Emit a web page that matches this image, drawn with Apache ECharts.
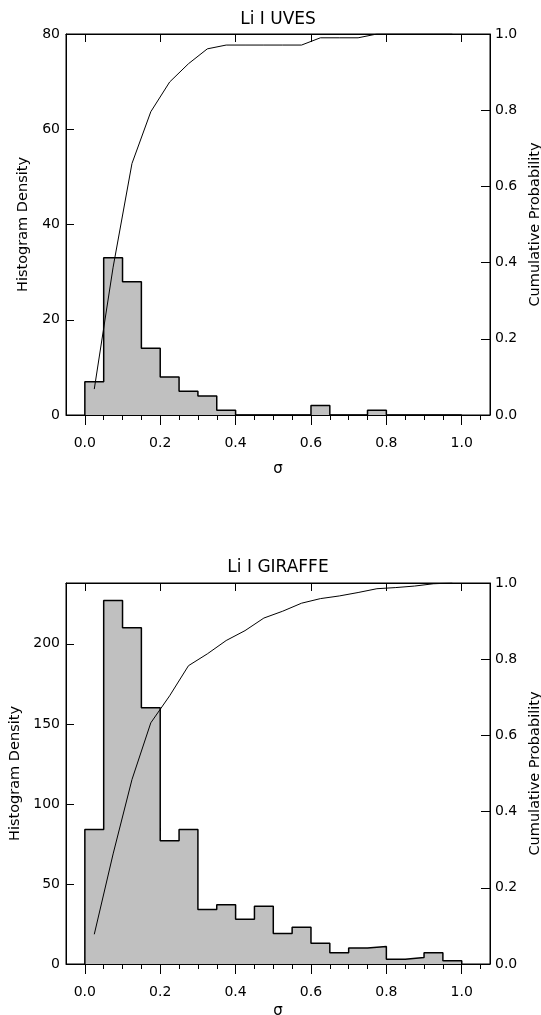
<!DOCTYPE html>
<html>
<head>
<meta charset="utf-8">
<script src="https://cdn.jsdelivr.net/npm/echarts@6/dist/echarts.min.js"></script>
<style>
html,body{margin:0;padding:0;background:#fff;}
#chart{width:541px;height:1015px;}
</style>
</head>
<body>
<div id="chart"></div>
<script>
// ---------- data ----------
const binStarts = [0.00,0.05,0.10,0.15,0.20,0.25,0.30,0.35,0.40,0.45,0.50,0.55,0.60,0.65,0.70,0.75,0.80,0.85,0.90,0.95];
const binWidth = 0.05;

const uvesDensity = [7,33,28,14,8,5,4,1,0,0,0,0,2,0,0,1,0,0,0,0];
const uvesCumulative = [0.068,0.388,0.660,0.796,0.874,0.922,0.961,0.971,0.971,0.971,0.971,0.971,0.990,0.990,0.990,1.0,1.0,1.0,1.0,1.0];

const giraffeDensity = [84,227,210,160,77,84,34,37,28,36,19,23,13,7,10,11,3,4,7,2];
const giraffeCumulative = [0.078,0.289,0.484,0.633,0.704,0.783,0.814,0.849,0.875,0.908,0.926,0.947,0.959,0.966,0.975,0.985,0.988,0.992,0.998,1.0];

const xTickValues = [0.0,0.2,0.4,0.6,0.8,1.0];
const xMinorTickValues = [0.00,0.05,0.10,0.15,0.20,0.25,0.30,0.35,0.40,0.45,0.50,0.55,0.60,0.65,0.70,0.75,0.80,0.85,0.90,0.95,1.00,1.05];
const uvesDensityTicks = [0,20,40,60,80];
const giraffeDensityTicks = [0,50,100,150,200];
const probTicks = [0.0,0.2,0.4,0.6,0.8,1.0];

const titles = ['Li I UVES','Li I GIRAFFE'];

// ---------- helpers ----------
const FONT = 'DejaVu Sans';
function stepData(vals){
  const d = [[binStarts[0], 0]];
  vals.forEach((v,i)=>d.push([binStarts[i], v]));
  d.push([binStarts[binStarts.length-1] + binWidth, 0]);
  return d;
}
function cumData(vals){
  return vals.map((v,i)=>[binStarts[i] + binWidth/2, v]);
}
const XMIN = -0.05, XMAX = 1.075;
const txt = {color:'#000', fontFamily:FONT, fontSize:14};

function xAxes(g, sigmaGap){
  return [
    {gridIndex:g, type:'value', position:'bottom', min:XMIN, max:XMAX,
     splitLine:{show:false},
     axisLine:{show:true, onZero:false, lineStyle:{color:'#000', width:1}},
     axisTick:{show:true, inside:false, length:10, customValues:xTickValues, lineStyle:{color:'#000', width:1}},
     axisLabel:Object.assign({show:true, customValues:xTickValues, margin:21, formatter:v=>v.toFixed(1)}, txt),
     name:'σ', nameLocation:'middle', nameGap:sigmaGap,
     nameTextStyle:{color:'#000', fontFamily:FONT, fontSize:15}},
    {gridIndex:g, type:'value', position:'bottom', min:XMIN, max:XMAX,
     splitLine:{show:false}, axisLine:{show:false, onZero:false},
     axisTick:{show:true, inside:false, length:5, customValues:xMinorTickValues, lineStyle:{color:'#000', width:1}},
     axisLabel:{show:false}},
    {gridIndex:g, type:'value', position:'top', min:XMIN, max:XMAX,
     splitLine:{show:false}, axisLine:{show:true, onZero:false, lineStyle:{color:'#000', width:1}},
     axisTick:{show:true, inside:true, length:8, customValues:xTickValues, lineStyle:{color:'#000', width:1}},
     axisLabel:{show:false}}
  ];
}
function yAxes(g, yMax, ticks){
  return [
    {gridIndex:g, type:'value', position:'left', min:0, max:yMax,
     splitLine:{show:false},
     axisLine:{show:true, onZero:false, lineStyle:{color:'#000', width:1}},
     axisTick:{show:true, inside:true, length:8, customValues:ticks, lineStyle:{color:'#000', width:1}},
     axisLabel:Object.assign({show:true, customValues:ticks, margin:6}, txt),
     name:'Histogram Density', nameLocation:'middle', nameRotate:90, nameGap:35,
     nameTextStyle:{color:'#000', fontFamily:FONT, fontSize:14.5}},
    {gridIndex:g, type:'value', position:'right', min:0, max:1,
     splitLine:{show:false},
     axisLine:{show:true, onZero:false, lineStyle:{color:'#000', width:1}},
     axisTick:{show:true, inside:true, length:9, customValues:probTicks, lineStyle:{color:'#000', width:1}},
     axisLabel:Object.assign({show:true, customValues:probTicks, margin:5, formatter:v=>v.toFixed(1)}, txt),
     name:'Cumulative Probability', nameLocation:'middle', nameRotate:90, nameGap:29,
     nameTextStyle:{color:'#000', fontFamily:FONT, fontSize:14.5}}
  ];
}
function histSeries(xi, yi, vals){
  return {type:'line', xAxisIndex:xi, yAxisIndex:yi, step:'end', data:stepData(vals),
    symbol:'none', z:2, silent:true,
    lineStyle:{color:'#000', width:1.5},
    areaStyle:{color:'#c0c0c0', opacity:1}};
}
function cumSeries(xi, yi, vals){
  return {type:'line', xAxisIndex:xi, yAxisIndex:yi, data:cumData(vals),
    symbol:'none', z:3, silent:true,
    lineStyle:{color:'#000', width:1}};
}

const chart = echarts.init(document.getElementById('chart'), null, {renderer:'canvas'});
chart.setOption({
  animation:false,
  backgroundColor:'#fff',
  graphic:[
    {type:'text', x:278, y:20, style:{text:titles[0], align:'center', verticalAlign:'middle', fontFamily:FONT, fontSize:17, fill:'#000'}},
    {type:'text', x:278, y:568, style:{text:titles[1], align:'center', verticalAlign:'middle', fontFamily:FONT, fontSize:17, fill:'#000'}}
  ],
  grid:[
    {left:66, right:51, top:34, height:381, show:true, borderColor:'#000', borderWidth:1, backgroundColor:'transparent', containLabel:false, outerBoundsMode:'none'},
    {left:66, right:51, top:583, height:381, show:true, borderColor:'#000', borderWidth:1, backgroundColor:'transparent', containLabel:false, outerBoundsMode:'none'}
  ],
  xAxis: xAxes(0, 47).concat(xAxes(1, 40)),
  yAxis: yAxes(0, 80, uvesDensityTicks).concat(yAxes(1, 238, giraffeDensityTicks)),
  series:[
    histSeries(0, 0, uvesDensity),
    cumSeries(0, 1, uvesCumulative),
    histSeries(3, 2, giraffeDensity),
    cumSeries(3, 3, giraffeCumulative)
  ]
});
</script>
</body>
</html>
